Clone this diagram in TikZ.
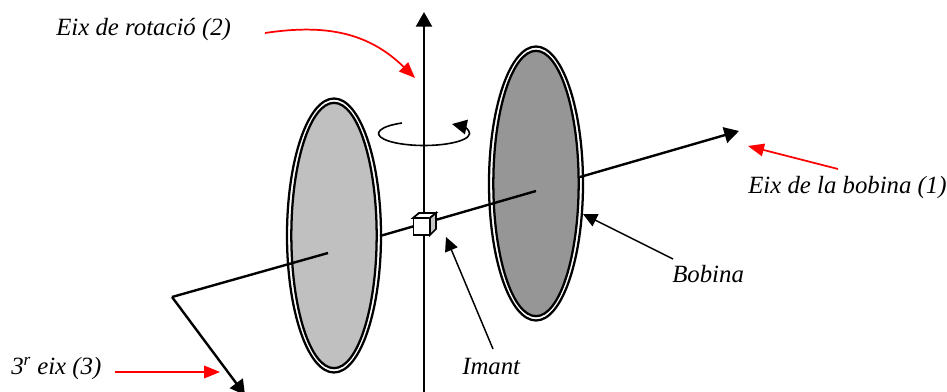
\documentclass[tikz,border=0pt]{standalone}
\usepackage{fontspec}
\setmainfont{Liberation Serif}
\usepackage{xcolor}
\usetikzlibrary{shapes.geometric, arrows.meta}
\definecolor{coillight}{HTML}{C0C0C0}
\definecolor{coildark}{HTML}{969696}

\begin{document}
\begin{tikzpicture}[
    x=0.75pt, y=-0.75pt,
    coilouter/.style={draw, ellipse, line width=1.7pt, fill=white, inner sep=0pt, minimum width=70.5pt, minimum height=205.5pt},
    coilinner/.style={draw, ellipse, line width=1.7pt, inner sep=0pt, minimum width=64pt, minimum height=199pt},
    axis/.style={-{Triangle[length=11pt, width=12pt]}, line width=1.8pt},
    pointer/.style={-{Triangle[length=10.5pt, width=10pt]}, line width=1.1pt},
    redpointer/.style={-{Triangle[length=12pt, width=9.5pt]}, line width=1.3pt, color=red},
    lbl/.style={font=\itshape\fontsize{18.6}{22}\selectfont, inner sep=0pt, anchor=base west},
]
    \useasboundingbox (0,0) rectangle (947,392);

    % Rotation axis
    \coordinate (rotbottom) at (424,392);
    \coordinate (rottop) at (424,12);
    \draw[axis] (rotbottom) -- (rottop);

    % Coils
    \node[coilouter] (leftouter) at (334,235.5) {};
    \node[coilinner, fill=coillight] (leftinner) at (334,235.5) {};
    \node[coilouter] (rightouter) at (536,183.5) {};
    \node[coilinner, fill=coildark] (rightinner) at (536,183.5) {};

    % Coil axis
    \coordinate (corner) at (172,297);
    \coordinate (leftcentre) at (328,253);
    \coordinate (leftexit) at (380,236);
    \coordinate (rightcentre) at (536,191);
    \coordinate (rightexit) at (580,177);
    \coordinate (coiltip) at (739,131);
    \coordinate (thirdtip) at (245,395);
    \draw[line width=1.8pt] (leftcentre) -- (corner);
    \draw[axis, line join=miter] (corner) -- (thirdtip);
    \draw[line width=1.8pt] (leftexit) -- (rightcentre);
    \draw[axis] (rightexit) -- (coiltip);

    % Magnet
    \draw[line width=1.3pt, fill=white] (413,218) -- (419,213) -- (436,213) -- (430,218) -- cycle;
    \draw[line width=1.3pt, fill=gray!45] (430,218) -- (436,213) -- (436,229) -- (430,235) -- cycle;
    \node[draw, line width=1.3pt, fill=white, minimum width=12pt, minimum height=12.5pt, inner sep=0pt, outer sep=0pt] (magnet) at (421.5,226.5) {};

    % Rotation sense
    \draw[-{Triangle[length=11pt, width=11pt]}, line width=1.2pt] (402,123) arc[start angle=241, end angle=-52, x radius=45.5, y radius=12];

    % Labels
    \node[lbl] (rotlabel) at (56,35.5) {Eix de rotació (2)};
    \node[lbl] (coillabel) at (748,194) {Eix de la bobina (1)};
    \node[lbl] (coilname) at (672,282.5) {Bobina};
    \node[lbl] (magnetname) at (462,374) {Imant};
    \node[lbl] (thirdlabel) at (11,374) {3\textsuperscript{r} eix (3)};

    % Pointers
    \coordinate (rotfrom) at (265,33);
    \coordinate (rotto) at (415,78);
    \coordinate (coilfrom) at (838,169);
    \coordinate (coilto) at (748,146);
    \coordinate (thirdfrom) at (115,372);
    \coordinate (thirdto) at (220,372);
    \coordinate (namefrom) at (673,259);
    \coordinate (nameto) at (583,214);
    \coordinate (magnetfrom) at (493,349);
    \coordinate (magnetto) at (446,237);
    \draw[redpointer] (rotfrom) .. controls (325,24) and (368,32) .. (rotto);
    \draw[redpointer] (coilfrom) -- (coilto);
    \draw[redpointer] (thirdfrom) -- (thirdto);
    \draw[pointer] (namefrom) -- (nameto);
    \draw[pointer] (magnetfrom) -- (magnetto);
\end{tikzpicture}
\end{document}
